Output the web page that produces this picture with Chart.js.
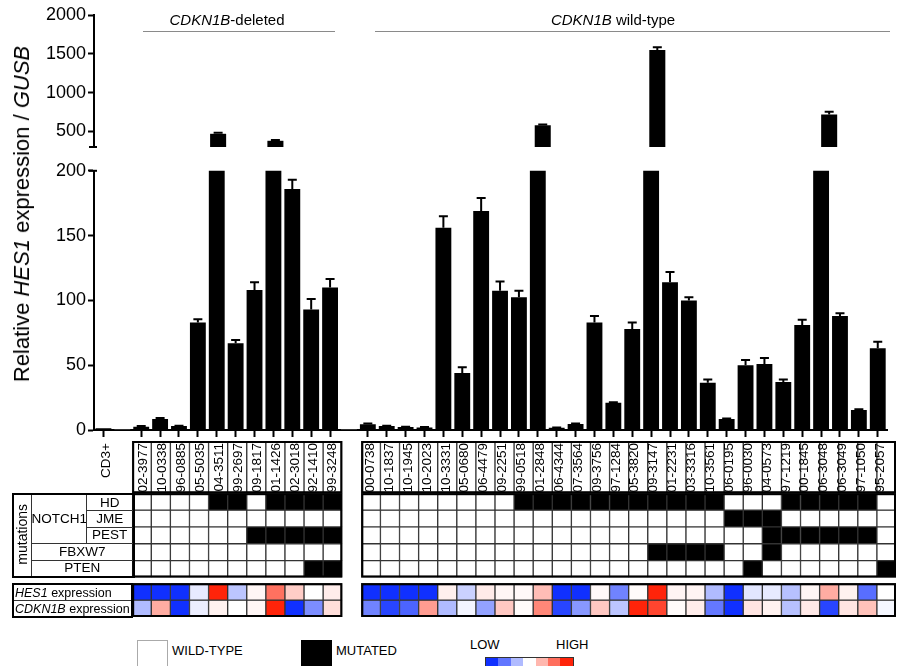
<!DOCTYPE html>
<html>
<head>
<meta charset="utf-8">
<script src="https://cdn.jsdelivr.net/npm/chart.js@4.4.1/dist/chart.umd.min.js"></script>
<style>
body{margin:0;background:#fff;font-family:"Liberation Sans",Arial,sans-serif;color:#000;}
#wrap{position:relative;width:900px;height:666px;overflow:hidden;background:#fff;}
canvas{position:absolute;left:0;}
.abs{position:absolute;}
.head{position:absolute;font-size:15px;white-space:nowrap;transform:translateX(-50%);}
.hline{position:absolute;height:1px;background:#8a8a8a;}
#ytitle{position:absolute;left:22px;top:214px;font-size:22px;white-space:nowrap;transform:translate(-50%,-50%) rotate(-90deg);}
table{border-collapse:collapse;position:absolute;table-layout:fixed;}
td{border:1px solid #333;padding:0;text-align:center;font-size:13.5px;line-height:14px;white-space:nowrap;overflow:hidden;}
.rot{writing-mode:vertical-rl;transform:rotate(180deg);font-size:14px;display:inline-block;}
#heatLabels td{text-align:left;padding-left:1px;font-size:12.5px;}
.leg{position:absolute;font-size:13px;white-space:nowrap;}
#bar span{display:inline-block;width:12.4px;height:8px;}
</style>
</head>
<body>
<div id="wrap">
  <canvas id="gridChart" width="900" height="182" style="top:438px;width:900px;height:182px"></canvas>
  <canvas id="upperChart" width="900" height="160" style="top:0;width:900px;height:160px"></canvas>
  <canvas id="lowerChart" width="900" height="336" style="top:158px;width:900px;height:336px"></canvas>

  <div id="ytitle">Relative <i>HES1</i> expression / <i>GUSB</i></div>
  <div class="head" style="left:227px;top:11px"><i>CDKN1B</i>-deleted</div>
  <div class="hline" style="left:143px;top:31px;width:192px"></div>
  <div class="head" style="left:613px;top:11px"><i>CDKN1B</i> wild-type</div>
  <div class="hline" style="left:375px;top:31px;width:515px"></div>

  <table id="mutLabels" style="left:12px;top:493px;width:121px;height:85px;border:2px solid #000">
    <colgroup><col style="width:18px"><col style="width:55px"><col style="width:48px"></colgroup>
    <tr><td rowspan="5"><div class="rot">mutations</div></td><td rowspan="3">NOTCH1</td><td>HD</td></tr>
    <tr><td>JME</td></tr>
    <tr><td>PEST</td></tr>
    <tr><td colspan="2">FBXW7</td></tr>
    <tr><td colspan="2">PTEN</td></tr>
  </table>
  <table id="heatLabels" style="left:12px;top:583px;width:121px;height:35px;border:2px solid #000">
    <tr><td><i>HES1</i> expression</td></tr>
    <tr><td><i>CDKN1B</i> expression</td></tr>
  </table>

  <div class="abs" style="left:137px;top:640px;width:29px;height:25px;border:1px solid #aaa;background:#fff"></div>
  <div class="leg" style="left:172px;top:643px">WILD-TYPE</div>
  <div class="abs" style="left:301px;top:640px;width:31px;height:26px;background:#000"></div>
  <div class="leg" style="left:336px;top:643px">MUTATED</div>
  <div class="leg" style="left:470px;top:637px">LOW</div>
  <div class="leg" style="left:556px;top:637px">HIGH</div>
  <div id="bar" class="abs" style="left:485px;top:657px;height:8px;border:1px solid #333;line-height:0;white-space:nowrap"></div>
</div>

<script>
// sample columns ('' = spacer between groups)
const samples = ['CD3+', '',
  '02-3977','10-0338','96-0885','05-5035','04-3511','99-2697','09-1817','01-1426','02-3018','92-1410','99-3248',
  '',
  '00-0738','10-1837','10-1945','10-2023','10-3331','05-0680','06-4479','09-2251','99-0518','01-2848',
  '06-4344','07-3564','09-3756','97-1284','05-3820','09-3147','01-2231','03-3316','10-3561','06-0195',
  '96-0030','04-0573','97-1219','00-1845','06-3048','06-3049','97-1050','95-2057'];

// HES1 / GUSB relative expression and error (upper SD)
const hes1 = [1.3, 0.5,
  2.5, 8.5, 3, 83, 470, 67, 108, 380, 186, 93, 110,
  0.5,
  4.5, 3, 2.3, 2, 156, 44, 169, 107.5, 102.5, 580,
  1.8, 4.6, 83, 21, 78, 1550, 114, 100, 36.5, 8.5,
  50, 51, 37, 81, 720, 88, 15.5, 63];
const hes1Err = [0, 0,
  0.5, 0.8, 0.3, 2.5, 12, 2.5, 6, 10, 7, 8, 6.5,
  0,
  0.5, 0.3, 0.3, 0.3, 9, 4.5, 10, 7, 5, 10,
  0.2, 0.5, 5, 0.5, 5, 35, 8, 2.5, 2.5, 0.3,
  4, 4.5, 2, 4, 35, 2, 0.5, 5];

const upperTicks = [500, 1000, 1500, 2000];
const lowerTicks = [0, 50, 100, 150, 200];

// mutations per sample (deleted group then wild-type group), 1 = mutated
const mutHD    = [0,0,0,0,1,1,0,1,1,1,1, 0,0,0,0,0,0,0,0,1,1,1,1,1,1,1,1,1,1,1,0,0,0,1,1,1,1,1,0];
const mutJME   = [0,0,0,0,0,0,0,0,0,0,0, 0,0,0,0,0,0,0,0,0,0,0,0,0,0,0,0,0,0,0,1,1,1,0,0,0,0,0,0];
const mutPEST  = [0,0,0,0,0,0,1,1,1,1,1, 0,0,0,0,0,0,0,0,0,0,0,0,0,0,0,0,0,0,0,0,0,1,1,1,1,1,1,0];
const mutFBXW7 = [0,0,0,0,0,0,0,0,0,0,0, 0,0,0,0,0,0,0,0,0,0,0,0,0,0,0,1,1,1,1,0,0,1,0,0,0,0,0,0];
const mutPTEN  = [0,0,0,0,0,0,0,0,0,1,1, 0,0,0,0,0,0,0,0,0,0,0,0,0,0,0,0,0,0,0,0,1,0,0,0,0,0,0,1];

// relative expression level, -1 = low (blue) .. 1 = high (red)
const hes1Level   = [-1,-1,-1,-0.1,1,-0.28,0.04,0.65,0.23,0,0.08,
  -1,-1,-1,-1,0.07,-0.22,0.09,0.04,0.03,0.3,-1,-1,0.03,-0.6,0.02,1,0.05,0.05,-0.33,-1,-0.12,-0.1,-0.3,0.04,0.38,0.06,-0.7,0];
const cdkn1bLevel = [-0.33,0.38,-1,-0.08,0.06,0,0.04,1,-1,-0.55,0.15,
  -0.6,-0.9,-0.75,0.45,-0.33,-0.05,-0.45,0.25,0.02,0.55,-0.9,-0.5,0.25,-0.28,1,0.85,0.02,0.08,-0.65,-1,0.12,0.06,-0.3,0.1,-0.9,0.12,0.28,-0.04];

const scaleLevels = [-1, -0.66, -0.33, 0, 0.33, 0.66, 1];

const FONT = '"Liberation Sans", Arial, sans-serif';
const isSample = (s) => s !== '' && s !== 'CD3+';

function levelColor(v) {
  const t = Math.min(Math.abs(v), 1);
  const end = v < 0 ? [16, 48, 255] : [255, 36, 10];
  const c = end.map(e => Math.round(255 + (e - 255) * t));
  return 'rgb(' + c.join(',') + ')';
}

// spread a per-sample row over all columns (null on CD3+ / spacers)
function spread(row) {
  let k = 0;
  return samples.map(s => isSample(s) ? row[k++] : null);
}

const errorBars = {
  id: 'errorBars',
  afterDatasetsDraw(chart) {
    const ctx = chart.ctx;
    const y = chart.scales.y;
    const ds = chart.data.datasets[0];
    const meta = chart.getDatasetMeta(0);
    ctx.save();
    ctx.strokeStyle = '#000';
    ctx.lineWidth = 2;
    meta.data.forEach((bar, i) => {
      const v = ds.data[i], e = ds.errors[i];
      if (!e || v > y.max || v < y.min) return;
      const yTop = y.getPixelForValue(v + e);
      ctx.beginPath();
      ctx.moveTo(bar.x, bar.y);
      ctx.lineTo(bar.x, yTop);
      ctx.moveTo(bar.x - 4.5, yTop);
      ctx.lineTo(bar.x + 4.5, yTop);
      ctx.stroke();
    });
    ctx.restore();
  }
};

const axisCap = {
  id: 'axisCap',
  afterDraw(chart, args, opts) {
    const y = chart.scales.y;
    const px = y.getPixelForValue(opts.at === 'min' ? y.min : y.max);
    const x = chart.chartArea.left - 1;
    const ctx = chart.ctx;
    ctx.save();
    ctx.strokeStyle = '#000';
    ctx.lineWidth = 2;
    ctx.beginPath();
    ctx.moveTo(x - 4, px);
    ctx.lineTo(x + 4, px);
    ctx.stroke();
    ctx.restore();
  }
};

function barOptions(yMin, yMax, ticks, showX, cap, pad) {
  return {
    responsive: false,
    animation: false,
    layout: { padding: pad },
    plugins: { legend: { display: false }, tooltip: { enabled: false }, axisCap: { at: cap } },
    scales: {
      x: showX ? {
        afterFit: s => { s.height = 64; },
        grid: {
          offset: false, drawOnChartArea: false, tickLength: 7, tickWidth: 2,
          tickColor: c => samples[c.index] ? '#000' : 'rgba(0,0,0,0)'
        },
        border: { display: true, color: '#000', width: 2 },
        ticks: { autoSkip: false, minRotation: 90, maxRotation: 90, padding: 6, labelOffset: 2.5,
                 color: '#000', font: { family: FONT, size: 13.5 } }
      } : { display: false },
      y: {
        min: yMin, max: yMax,
        afterFit: s => { s.width = 80; },
        afterBuildTicks: s => { s.ticks = ticks.map(v => ({ value: v })); },
        grid: { drawOnChartArea: false, tickLength: 6, tickWidth: 2, tickColor: '#000' },
        border: { display: true, color: '#000', width: 2 },
        ticks: { padding: 2, color: '#000', font: { family: FONT, size: 18 }, callback: v => String(v) }
      }
    }
  };
}

function barData() {
  return {
    labels: samples,
    datasets: [{
      data: hes1,
      errors: hes1Err,
      backgroundColor: samples.map(s => s === '' ? '#c8c8c8' : '#000'),
      barPercentage: 0.84,
      categoryPercentage: 1.0
    }]
  };
}

new Chart(document.getElementById('upperChart'), {
  type: 'bar',
  data: barData(),
  options: barOptions(300, 2000, upperTicks, false, 'min', { left: 14, right: 4, top: 15, bottom: 13 }),
  plugins: [errorBars, axisCap]
});

new Chart(document.getElementById('lowerChart'), {
  type: 'bar',
  data: barData(),
  options: barOptions(0, 200, lowerTicks, true, 'max', { left: 14, right: 4, top: 10, bottom: 0 }),
  plugins: [errorBars, axisCap]
});

// mutation / expression grid as stacked cells
const LABEL_ROW = 3.1, GAP = 0.35;
const cellRow = (value, colors, border) => ({
  data: samples.map(s => isSample(s) ? value : null),
  backgroundColor: colors,
  borderColor: '#333',
  borderWidth: border,
  borderSkipped: false,
  barPercentage: 1,
  categoryPercentage: 1
});
const mutColors = row => spread(row).map(m => m ? '#000' : '#fff');
const lvlColors = row => spread(row).map(v => v === null ? '#fff' : levelColor(v));

const groupFrame = {
  id: 'groupFrame',
  afterDatasetsDraw(chart) {
    const x = chart.scales.x, y = chart.scales.y, ctx = chart.ctx;
    const half = (x.getPixelForValue(1) - x.getPixelForValue(0)) / 2;
    const groups = [[2, 12], [14, 41]];
    const bands = [[0, LABEL_ROW], [LABEL_ROW, LABEL_ROW + 5], [LABEL_ROW + 5 + GAP, LABEL_ROW + 7 + GAP]];
    ctx.save();
    ctx.strokeStyle = '#000';
    ctx.lineWidth = 2;
    groups.forEach(([a, b]) => {
      const x0 = x.getPixelForValue(a) - half, x1 = x.getPixelForValue(b) + half;
      bands.forEach(([t, u]) => {
        const y0 = y.getPixelForValue(t), y1 = y.getPixelForValue(u);
        ctx.strokeRect(x0 + 1, y0 + 1, x1 - x0 - 2, y1 - y0 - 2);
      });
    });
    ctx.restore();
  }
};

new Chart(document.getElementById('gridChart'), {
  type: 'bar',
  data: {
    labels: samples,
    datasets: [
      cellRow(LABEL_ROW, '#fff', 1),
      cellRow(1, mutColors(mutHD), 1),
      cellRow(1, mutColors(mutJME), 1),
      cellRow(1, mutColors(mutPEST), 1),
      cellRow(1, mutColors(mutFBXW7), 1),
      cellRow(1, mutColors(mutPTEN), 1),
      cellRow(GAP, 'rgba(0,0,0,0)', 0),
      cellRow(1, lvlColors(hes1Level), 1),
      cellRow(1, lvlColors(cdkn1bLevel), 1)
    ]
  },
  options: {
    responsive: false,
    animation: false,
    layout: { padding: { left: 94, right: 4, top: 3, bottom: 3 } },
    plugins: { legend: { display: false }, tooltip: { enabled: false } },
    scales: {
      x: { display: false, stacked: true },
      y: { display: false, stacked: true, reverse: true, min: 0, max: LABEL_ROW + 7 + GAP }
    }
  },
  plugins: [groupFrame]
});

// colour scale legend
document.getElementById('bar').innerHTML =
  scaleLevels.map(v => '<span style="background:' + levelColor(v) + '"></span>').join('');
</script>
</body>
</html>
